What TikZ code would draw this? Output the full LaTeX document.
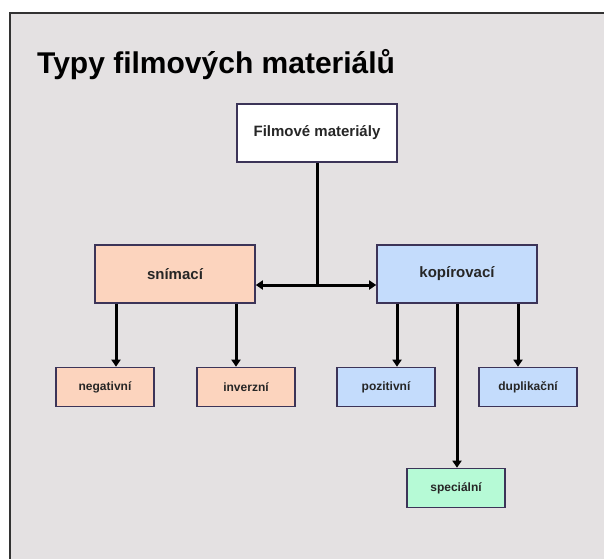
\documentclass[tikz,border=0pt]{standalone}
\usepackage{fontspec}
\setmainfont{Liberation Sans}
\usetikzlibrary{arrows.meta}
\definecolor{slidebg}{RGB}{228,225,226}
\definecolor{framecol}{RGB}{50,50,50}
\definecolor{boxline}{RGB}{60,52,88}
\definecolor{peach}{RGB}{252,212,190}
\definecolor{skyblue}{RGB}{196,220,252}
\definecolor{mint}{RGB}{182,250,214}
\tikzset{
  box/.style={draw=boxline, line width=1.6pt, rectangle, align=center,
    font=\fontsize{15}{17}\selectfont\bfseries, text=black!85},
  bigbox/.style={box, minimum width=160pt, minimum height=58pt},
  leafbox/.style={box, minimum width=98pt, minimum height=39pt,
    font=\fontsize{12}{14}\selectfont\bfseries},
  link/.style={line width=3pt, black},
  arr/.style={link, -{Triangle[length=7pt,width=9pt]}},
}
\begin{document}
\begin{tikzpicture}[x=1pt,y=-1pt]
  \useasboundingbox (0,0) rectangle (604,558);
  % page and slide frame
  \fill[white] (0,0) rectangle (604,558);
  \filldraw[fill=slidebg, draw=framecol, line width=2pt] (10,13) rectangle (610,566);
  % title
  \node[anchor=base west, inner sep=0pt, font=\fontsize{30}{34}\selectfont\bfseries]
    (title) at (37,73) {Typy filmových materiálů};
  % boxes
  \node[bigbox, fill=white] (film) at (317,133) {Filmové materiály};
  \node[bigbox, fill=peach] (snim) at (175,274) {snímací};
  \node[bigbox, fill=skyblue] (kop) at (457,274) {kopírovací};
  \node[leafbox, fill=peach] (neg) at (105,387) {negativní};
  \node[leafbox, fill=peach] (inv) at (246,387) {inverzní};
  \node[leafbox, fill=skyblue] (poz) at (386,387) {pozitivní};
  \node[leafbox, fill=skyblue] (dup) at (528,387) {duplikační};
  \node[leafbox, fill=mint] (spec) at (456,488) {speciální};
  % connector columns
  \coordinate (junc) at (317,285);
  \coordinate (cneg) at (116,0);
  \coordinate (cinv) at (236,0);
  \coordinate (cpoz) at (397,0);
  \coordinate (cspec) at (457,0);
  \coordinate (cdup) at (518,0);
  % connectors
  \draw[link] (film.south) -- (junc);
  \draw[arr] (junc) -- (snim.east |- junc);
  \draw[arr] (junc) -- (kop.west |- junc);
  \draw[arr] (snim.south -| cneg) -- (neg.north -| cneg);
  \draw[arr] (snim.south -| cinv) -- (inv.north -| cinv);
  \draw[arr] (kop.south -| cpoz) -- (poz.north -| cpoz);
  \draw[arr] (kop.south -| cspec) -- (spec.north -| cspec);
  \draw[arr] (kop.south -| cdup) -- (dup.north -| cdup);
\end{tikzpicture}
\end{document}
